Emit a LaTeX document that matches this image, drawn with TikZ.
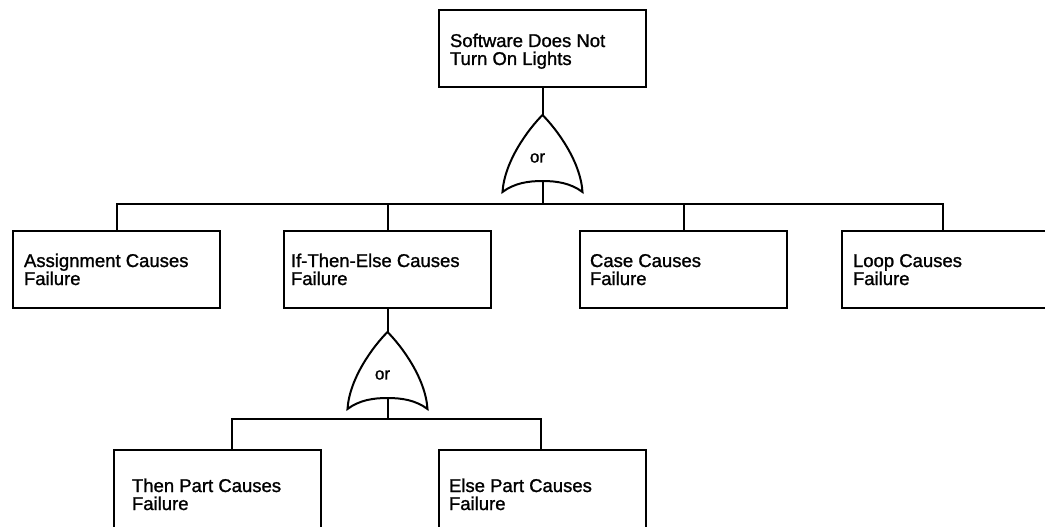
\documentclass[tikz,border=0pt]{standalone}
\usepackage{fontspec}
\setmainfont{Liberation Sans}
\newfontfamily\diagfont{Liberation Sans}[FakeBold=1.2]
\usetikzlibrary{calc}
\begin{document}
\begin{tikzpicture}[x=1pt,y=-1pt,line width=2pt,
  box/.style={draw,rectangle,minimum width=207pt,minimum height=77pt,anchor=north west,inner sep=0pt,outer sep=0pt},
  tallbox/.style={box,minimum height=95pt},
  lbl/.style={anchor=base west,align=left,inner sep=0pt,font=\diagfont\fontsize{18.5}{18}\selectfont},
  gatetxt/.style={inner sep=0pt,font=\diagfont\fontsize{17}{17}\selectfont},
  orgate/.pic={
    \draw (0,0) .. controls (-14,14) and (-38,46) .. (-40,77)
      .. controls (-28,68) and (-14,66) .. (0,66)
      .. controls (14,66) and (28,68) .. (40,77)
      .. controls (38,46) and (14,14) .. cycle;
    \node[gatetxt] (-lbl) at (-5,43) {or};
    \coordinate (-in) at (0,0);
    \coordinate (-out) at (0,66);
  }]
\useasboundingbox (0,0) rectangle (1045,527);
\clip (0,0) rectangle (1045,527);
\fill[white] (0,0) rectangle (1045,527);

% top event
\node[box] (top) at (439,10) {};
\node[lbl] (topt) at ($(top.north west)+(10,55)$) {Software Does Not\\Turn On Lights};
\pic (g1) at (542.5,115) {orgate};
\coordinate (bus1) at (542.5,204);

% level 2
\node[box] (a1) at (13,231) {};
\node[lbl] (a1t) at ($(a1.north west)+(10,54)$) {Assignment Causes\\Failure};
\node[box] (a2) at (284,231) {};
\node[lbl] (a2t) at ($(a2.north west)+(6,54)$) {If-Then-Else Causes\\Failure};
\node[box] (a3) at (580,231) {};
\node[lbl] (a3t) at ($(a3.north west)+(9,54)$) {Case Causes\\Failure};
\node[box] (a4) at (842,231) {};
\node[lbl] (a4t) at ($(a4.north west)+(10,54)$) {Loop Causes\\Failure};

\pic (g2) at (387.5,332) {orgate};
\coordinate (bus2) at (387.5,419);

% level 3
\node[tallbox] (b1) at (114,450) {};
\node[lbl] (b1t) at ($(b1.north west)+(17,60)$) {Then Part Causes\\Failure};
\node[tallbox] (b2) at (439,450) {};
\node[lbl] (b2t) at ($(b2.north west)+(9,60)$) {Else Part Causes\\Failure};

% connectors
\draw (top.south) -- (g1-in);
\draw (g1-out) -- (bus1);
\draw (a1.north) |- (bus1);
\draw (a2.north) |- (bus1);
\draw (a3.north) |- (bus1);
\draw ([xshift=-3pt]a4.north) |- (bus1);
\draw (a2.south) -- (g2-in);
\draw (g2-out) -- (bus2);
\draw ([xshift=14pt]b1.north) |- (bus2);
\draw ([xshift=-2pt]b2.north) |- (bus2);
\end{tikzpicture}
\end{document}
